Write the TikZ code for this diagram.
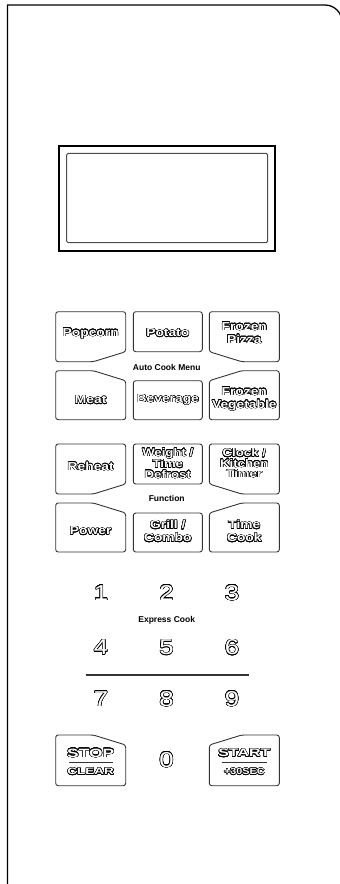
\documentclass[tikz,border=0pt]{standalone}
\usepackage{fontspec}
\usepackage{xcolor}
\usepackage{contour}
\usepackage{tikz}
\usetikzlibrary{
    positioning,
    calc
}
\setmainfont{Liberation Sans}
\newfontfamily\keyfont{Liberation Sans}[FakeStretch=1.2]
\newfontfamily\widefont{Liberation Sans}[FakeStretch=1.45]
\contourlength{0.45pt}
\contournumber{24}
\newcommand{\hollow}[1]{\contour{black}{#1}}

\tikzset{
  panel/.style = {
      draw,
      line width=1.3pt
  },
  screen/.style = {
      draw,
      line width=1.8pt
  },
  glass/.style = {
      draw=black!70,
      line width=1pt,
      rounded corners=1.5pt
  },
  keybox/.style = {
      draw=black!80,
      line width=0.9pt,
      rounded corners=2.5pt
  },
  key/.style = {
      text=white,
      font=\keyfont\bfseries\fontsize{11.5}{13}\selectfont,
      align=center,
      inner sep=0pt
  },
  small key/.style = {
      key,
      font=\keyfont\bfseries\fontsize{11}{10.3}\selectfont
  },
  digit/.style = {
      text=white,
      font=\keyfont\fontsize{21.5}{21.5}\selectfont,
      inner sep=0pt
  },
  caption/.style = {
      font=\bfseries\fontsize{8.5}{9}\selectfont,
      inner sep=0pt
  },
  bar/.style = {
      draw=black!80,
      line width=1.1pt
  }
}

\begin{document}
\begin{tikzpicture}[x=1pt,y=-1pt]
    \useasboundingbox (0,0) rectangle (340,884);
    % Panel and display
    \draw[panel] (7.5,886) -- (7.5,5) [rounded corners=4pt] -- (200,5)
        [rounded corners=17pt] -- (342,5) -- (342,886);
    \draw[screen] (59.3,146) rectangle (275,250.7);
    \draw[glass] (66.7,153.3) rectangle (267.7,242.7);
    % Key outlines
    \foreach \t in {311.7,444}{
        \draw[keybox] (55.7,\t) -- (125.7,\t) -- (125.7,\t+40) -- (93.3,\t+50)
            -- (55.7,\t+50) -- cycle;
        \draw[keybox] (133.3,\t) rectangle (202.3,\t+40);
        \draw[keybox] (209.3,\t) -- (279.3,\t) -- (279.3,\t+50) -- (241.7,\t+50)
            -- (209.3,\t+40) -- cycle;
        \draw[keybox] (55.7,\t+59) -- (93.3,\t+59) -- (125.7,\t+69) -- (125.7,\t+108)
            -- (55.7,\t+108) -- cycle;
        \draw[keybox] (133.3,\t+69) rectangle (202.3,\t+108);
        \draw[keybox] (209.3,\t+69) -- (241.7,\t+59) -- (279.3,\t+59) -- (279.3,\t+108)
            -- (209.3,\t+108) -- cycle;
    }
    \draw[keybox] (55.7,735) -- (93.3,735) -- (125.7,745) -- (125.7,785.7)
        -- (55.7,785.7) -- cycle;
    \draw[keybox] (209.3,745) -- (241.7,735) -- (279.3,735) -- (279.3,785.7)
        -- (209.3,785.7) -- cycle;
    % Auto cook keys
    \node[key] (popcorn) at (90.7,333.5) {\hollow{Popcorn}};
    \node[key] (potato) at (167.8,333) {\hollow{Potato}};
    \node[key] (pizza) at (244.3,333) {\hollow{Frozen}\\\hollow{Pizza}};
    \node[caption] (autocook) at (166.7,367.5) {Auto Cook Menu};
    \node[key] (meat) at (90.7,400) {\hollow{Meat}};
    \node[key] (beverage) at (167.8,400) {\hollow{Beverage}};
    \node[key] (vegetable) at (244.3,399) {\hollow{Frozen}\\\hollow{Vegetable}};
    % Function keys
    \node[key] (reheat) at (90.7,466.5) {\hollow{Reheat}};
    \node[small key] (defrost) at (167.8,463.5) {\hollow{Weight /}\\\hollow{Time}\\\hollow{Defrost}};
    \node[small key] (clock) at (244.3,463.5) {\hollow{Clock /}\\\hollow{Kitchen}\\\hollow{Timer}};
    \node[caption] (function) at (166.7,498.5) {Function};
    \node[key] (power) at (90.7,531) {\hollow{Power}};
    \node[key] (grill) at (167.8,531.5) {\hollow{Grill /}\\\hollow{Combo}};
    \node[key] (timecook) at (244.3,531.5) {\hollow{Time}\\\hollow{Cook}};
    % Number pad
    \node[digit] (d1) at (101,593) {\hollow{1}};
    \node[digit] (d2) at (166.5,593) {\hollow{2}};
    \node[digit] (d3) at (232,593) {\hollow{3}};
    \node[caption] (express) at (166.7,620.7) {Express Cook};
    \node[digit] (d4) at (101,647.5) {\hollow{4}};
    \node[digit] (d5) at (166.5,647.5) {\hollow{5}};
    \node[digit] (d6) at (232,647.5) {\hollow{6}};
    \draw[bar] (85.7,675) -- (207.7,675) -- (249.3,675);
    \node[digit] (d7) at (101,699) {\hollow{7}};
    \node[digit] (d8) at (166.5,699) {\hollow{8}};
    \node[digit] (d9) at (232,699) {\hollow{9}};
    \node[digit] (d0) at (166.5,760) {\hollow{0}};
    % Stop and start
    \node[key, font=\widefont\bfseries\fontsize{12}{12}\selectfont] (stop) at (90.7,753.3) {\hollow{STOP}};
    \draw[bar] (69,762.7) -- (112.7,762.7);
    \node[key, font=\widefont\bfseries\fontsize{9.3}{9.3}\selectfont] (clear) at (90.7,771.7) {\hollow{CLEAR}};
    \node[key, font=\widefont\bfseries\fontsize{11}{11}\selectfont] (start) at (244.3,753.3) {\hollow{START}};
    \draw[bar] (221.7,762.7) -- (266.7,762.7);
    \node[key, font=\keyfont\bfseries\fontsize{9}{9}\selectfont] (plus) at (244.3,771.7) {\hollow{+30SEC}};
\end{tikzpicture}
\end{document}
